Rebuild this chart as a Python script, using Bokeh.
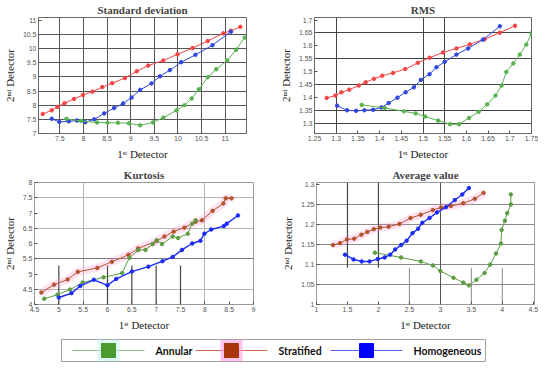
from bokeh.plotting import figure
from bokeh.models import Range1d, FixedTicker, Grid
from bokeh.layouts import column, row
from bokeh.core.properties import value
from bokeh.embed import file_html
from bokeh.resources import INLINE

# ---------------- data ----------------
# Standard deviation
sd_red_x = [7.14, 7.33, 7.45, 7.60, 7.80, 7.99, 8.19, 8.40, 8.61, 8.88, 9.13, 9.37, 9.69, 9.99, 10.31, 10.63, 10.96, 11.12, 11.32]
sd_red_y = [7.69, 7.82, 7.94, 8.07, 8.22, 8.36, 8.48, 8.64, 8.78, 8.96, 9.20, 9.40, 9.58, 9.80, 10.02, 10.27, 10.54, 10.63, 10.77]
sd_blue_x = [7.33, 7.49, 7.69, 7.86, 8.04, 8.23, 8.44, 8.65, 8.84, 9.02, 9.20, 9.44, 9.62, 9.83, 10.07, 10.37, 10.73, 11.12]
sd_blue_y = [7.52, 7.41, 7.43, 7.46, 7.40, 7.50, 7.71, 7.90, 8.06, 8.27, 8.54, 8.77, 9.02, 9.24, 9.52, 9.78, 10.12, 10.60]
sd_green_x = [7.64, 7.95, 8.29, 8.51, 8.73, 8.96, 9.20, 9.47, 9.69, 9.97, 10.14, 10.29, 10.44, 10.63, 10.81, 11.04, 11.23, 11.41]
sd_green_y = [7.52, 7.44, 7.39, 7.38, 7.38, 7.36, 7.29, 7.39, 7.56, 7.82, 8.00, 8.24, 8.56, 8.99, 9.27, 9.58, 9.96, 10.39]

# RMS
rms_red_x = [1.278, 1.298, 1.312, 1.330, 1.352, 1.368, 1.387, 1.406, 1.431, 1.459, 1.488, 1.515, 1.546, 1.577, 1.608, 1.642, 1.677, 1.712]
rms_red_y = [1.398, 1.407, 1.420, 1.430, 1.446, 1.459, 1.472, 1.484, 1.495, 1.510, 1.534, 1.554, 1.574, 1.590, 1.606, 1.626, 1.651, 1.678]
rms_blue_x = [1.302, 1.325, 1.346, 1.365, 1.385, 1.404, 1.421, 1.441, 1.460, 1.479, 1.495, 1.515, 1.531, 1.550, 1.577, 1.604, 1.638, 1.677]
rms_blue_y = [1.368, 1.350, 1.348, 1.350, 1.352, 1.361, 1.378, 1.399, 1.420, 1.439, 1.468, 1.490, 1.517, 1.538, 1.566, 1.590, 1.624, 1.676]
rms_green_x = [1.359, 1.412, 1.456, 1.483, 1.505, 1.535, 1.562, 1.583, 1.606, 1.628, 1.648, 1.667, 1.681, 1.692, 1.708, 1.723, 1.738, 1.750]
rms_green_y = [1.371, 1.359, 1.346, 1.338, 1.326, 1.310, 1.296, 1.296, 1.320, 1.344, 1.373, 1.407, 1.446, 1.499, 1.532, 1.566, 1.605, 1.649]

# Kurtosis
ku_red_x = [4.64, 4.90, 5.18, 5.39, 5.79, 6.09, 6.43, 6.63, 7.01, 7.17, 7.36, 7.58, 7.81, 7.94, 8.16, 8.38, 8.43, 8.55]
ku_red_y = [4.39, 4.65, 4.82, 5.07, 5.20, 5.40, 5.63, 5.84, 6.08, 6.23, 6.39, 6.52, 6.71, 6.76, 7.07, 7.31, 7.48, 7.48]
ku_green_x = [4.70, 4.97, 5.23, 5.49, 5.92, 6.30, 6.45, 6.63, 6.78, 6.93, 7.01, 7.12, 7.34, 7.45, 7.65, 7.74, 7.81]
ku_green_y = [4.19, 4.32, 4.49, 4.72, 4.89, 5.03, 5.53, 5.79, 5.79, 5.98, 6.11, 5.98, 6.23, 6.18, 6.32, 6.65, 6.76]
ku_blue_x = [5.00, 5.26, 5.44, 5.72, 6.00, 6.18, 6.50, 6.84, 7.13, 7.34, 7.53, 7.74, 7.91, 7.99, 8.13, 8.39, 8.45, 8.68]
ku_blue_y = [4.23, 4.37, 4.61, 4.81, 4.63, 4.84, 5.08, 5.24, 5.42, 5.56, 5.79, 6.00, 6.09, 6.32, 6.46, 6.57, 6.65, 6.92]

# Average value
av_red_x = [1.265, 1.381, 1.492, 1.608, 1.725, 1.820, 1.926, 2.032, 2.164, 2.339, 2.519, 2.683, 2.878, 3.011, 3.169, 3.370, 3.556, 3.698]
av_red_y = [1.149, 1.154, 1.163, 1.165, 1.175, 1.182, 1.189, 1.193, 1.195, 1.202, 1.217, 1.225, 1.237, 1.243, 1.247, 1.254, 1.265, 1.280]
av_blue_x = [1.460, 1.598, 1.730, 1.857, 1.989, 2.101, 2.190, 2.270, 2.365, 2.455, 2.550, 2.640, 2.709, 2.825, 2.947, 3.090, 3.233, 3.354, 3.460]
av_blue_y = [1.125, 1.113, 1.108, 1.108, 1.114, 1.118, 1.125, 1.138, 1.149, 1.160, 1.179, 1.190, 1.205, 1.217, 1.231, 1.244, 1.262, 1.276, 1.292]
av_green_x = [1.942, 2.365, 2.683, 2.878, 3.000, 3.212, 3.370, 3.460, 3.582, 3.714, 3.804, 3.899, 3.979, 3.989, 4.042, 4.079, 4.138, 4.138]
av_green_y = [1.130, 1.118, 1.108, 1.098, 1.084, 1.067, 1.055, 1.048, 1.062, 1.079, 1.100, 1.128, 1.153, 1.187, 1.210, 1.229, 1.251, 1.276]

# axis ticks / reference lines
sd_xticks = [7.5, 8.0, 8.5, 9.0, 9.5, 10.0, 10.5, 11.0]
sd_yticks = [7.0, 7.5, 8.0, 8.5, 9.0, 9.5, 10.0, 10.5, 11.0]
sd_xgrid = [7.5, 8.0, 8.5, 9.0, 9.5, 10.0, 10.5, 11.0]
sd_ygrid = [7.5, 8.0, 8.5, 9.0, 9.5, 10.0, 10.5]

rms_xticks = [1.25, 1.3, 1.35, 1.4, 1.45, 1.5, 1.55, 1.6, 1.65, 1.7, 1.75]
rms_yticks = [1.3, 1.35, 1.4, 1.45, 1.5, 1.55, 1.6, 1.65, 1.7]
rms_xgrid = [1.3, 1.5, 1.55]
rms_ygrid = [1.3, 1.35, 1.45, 1.55, 1.65]

ku_xticks = [4.5, 5.0, 5.5, 6.0, 6.5, 7.0, 7.5, 8.0, 8.5, 9.0]
ku_yticks = [4.0, 4.5, 5.0, 5.5, 6.0, 6.5, 7.0, 7.5, 8.0]
ku_xgrid = [5.5, 8.0]
ku_ygrid = [4.5, 6.5, 7.5]
ku_ygrid_dark = [5.5]
ku_partial_x = [5.0, 6.0, 6.5, 7.0, 7.5]
ku_partial_top = 5.28

av_xticks = [1.0, 1.5, 2.0, 2.5, 3.0, 3.5, 4.0, 4.5]
av_yticks = [1.0, 1.05, 1.1, 1.15, 1.2, 1.25, 1.3]
av_ygrid = [1.05, 1.1, 1.15, 1.2, 1.25]
av_xgrid_full = [3.0]
av_upper_x = [1.5, 2.0]
av_lower_x = [2.5, 3.5, 4.0]
av_split_y = 1.092

legend_labels = ["Annular", "Stratified", "Homogeneous"]

SERIF = "Liberation Serif"
XLAB = "1\u02e2\u1d57 Detector"
YLAB = "2\u207f\u1d48 Detector"


def make_plot(title, xr, yr, xticks, yticks, fw, fh, bl, br, bb, outline):
    p = figure(title=title, x_range=Range1d(*xr), y_range=Range1d(*yr),
               frame_width=fw, frame_height=fh,
               min_border_left=bl, min_border_right=br, min_border_bottom=bb, min_border_top=0,
               output_backend="svg", toolbar_location=None, background_fill_color="white")
    p.title.align = "center"
    p.title.text_font = SERIF
    p.title.text_font_size = "11px"
    p.title.text_font_style = "bold"
    p.title.standoff = 3
    p.title.offset = 0
    p.outline_line_color = outline
    p.outline_line_width = 1
    p.xaxis.ticker = FixedTicker(ticks=xticks)
    p.yaxis.ticker = FixedTicker(ticks=yticks)
    for ax in (p.xaxis[0], p.yaxis[0]):
        ax.axis_line_color = None
        ax.major_tick_in = 3
        ax.major_tick_out = 0
        ax.major_tick_line_color = "#555555"
        ax.minor_tick_line_color = None
        ax.major_label_text_font = "Liberation Sans"
        ax.major_label_text_font_size = "7px"
        ax.major_label_text_color = "#555555"
        ax.major_label_standoff = 2
        ax.axis_label_text_font = SERIF
        ax.axis_label_text_font_size = "11px"
        ax.axis_label_text_font_style = "normal"
        ax.axis_label_text_color = "#222222"
        ax.axis_label_standoff = 4
    p.xaxis.axis_label = XLAB
    p.yaxis.axis_label = YLAB
    p.xgrid.grid_line_color = None
    p.ygrid.grid_line_color = None
    return p


def add_grid(p, dim, ticks, color):
    p.add_layout(Grid(dimension=dim, ticker=FixedTicker(ticks=ticks),
                      grid_line_color=color, grid_line_width=1))


def series(p, xs, ys, color, width=1.0, halo=None, size=3.5):
    if halo:
        p.line(xs, ys, line_color=halo, line_width=8, line_alpha=0.25)
    p.line(xs, ys, line_color=color, line_width=width)
    p.scatter(xs, ys, size=size, fill_color=color, line_color=color)


TOP_RED, TOP_BLUE, TOP_GREEN = "#f24444", "#3046dc", "#58b250"
BOT_RED, BOT_BLUE, BOT_GREEN = "#b4532c", "#1b2cf5", "#5c9c42"

# ---- Standard deviation ----
p1 = make_plot("Standard deviation", (7.05, 11.45), (7.0, 11.1), sd_xticks, sd_yticks,
               208, 116, 34, 28, 32, "#666666")
add_grid(p1, 0, sd_xgrid, "#555555")
add_grid(p1, 1, sd_ygrid, "#555555")
series(p1, sd_red_x, sd_red_y, TOP_RED)
series(p1, sd_blue_x, sd_blue_y, TOP_BLUE)
series(p1, sd_green_x, sd_green_y, TOP_GREEN)

# ---- RMS ----
p2 = make_plot("RMS", (1.25, 1.75), (1.26, 1.71), rms_xticks, rms_yticks,
               217, 116, 40, 7, 32, "#666666")
add_grid(p2, 0, rms_xgrid, "#444444")
add_grid(p2, 1, rms_ygrid, "#444444")
series(p2, rms_red_x, rms_red_y, TOP_RED)
series(p2, rms_blue_x, rms_blue_y, TOP_BLUE)
series(p2, rms_green_x, rms_green_y, TOP_GREEN)

# ---- Kurtosis ----
p3 = make_plot("Kurtosis", (4.5, 9.0), (4.0, 8.0), ku_xticks, ku_yticks,
               219, 122, 30, 18, 32, "#9a9a9a")
add_grid(p3, 0, ku_xgrid, "#b5b5b5")
add_grid(p3, 1, ku_ygrid, "#b5b5b5")
add_grid(p3, 1, ku_ygrid_dark, "#777777")
p3.segment(x0=ku_partial_x, x1=ku_partial_x, y0=[4.0] * len(ku_partial_x),
           y1=[ku_partial_top] * len(ku_partial_x), line_color="#444444", line_width=1.2)
series(p3, ku_red_x, ku_red_y, BOT_RED, halo="#ff8fd0")
series(p3, ku_green_x, ku_green_y, BOT_GREEN)
series(p3, ku_blue_x, ku_blue_y, BOT_BLUE, width=1.4)

# ---- Average value ----
p4 = make_plot("Average value", (1.0, 4.52), (1.0, 1.306), av_xticks, av_yticks,
               218, 122, 45, 4, 32, "#9a9a9a")
add_grid(p4, 1, av_ygrid, "#8a8a8a")
add_grid(p4, 0, av_xgrid_full, "#555555")
p4.segment(x0=av_upper_x, x1=av_upper_x, y0=[av_split_y] * len(av_upper_x),
           y1=[1.306] * len(av_upper_x), line_color="#444444", line_width=1.2)
p4.segment(x0=av_lower_x, x1=av_lower_x, y0=[1.0] * len(av_lower_x),
           y1=[av_split_y] * len(av_lower_x), line_color="#8a8a8a", line_width=1)
series(p4, av_red_x, av_red_y, BOT_RED, halo="#ff8fd0")
series(p4, av_green_x, av_green_y, BOT_GREEN)
series(p4, av_blue_x, av_blue_y, BOT_BLUE, width=1.4)

# ---- Legend strip ----
LW, LH = 424, 22
lg = figure(x_range=Range1d(0, LW), y_range=Range1d(0, LH), frame_width=LW, frame_height=LH,
            min_border_left=61, min_border_right=49, min_border_top=3, min_border_bottom=1,
            output_backend="svg", toolbar_location=None)
lg.axis.visible = False
lg.grid.grid_line_color = None
lg.outline_line_color = "#a0a0a0"
item_x = [11, 134, 269]
glyph_w = 72
mid = LH / 2
line_cols = ["#8fbf80", "#d86a5a", "#5a5ae6"]
sq_cols = ["#4b9a30", "#a8360a", "#0000ff"]
glow_cols = ["#c8f4f0", "#ff9ee0", None]
for i, lab in enumerate(legend_labels):
    x0 = item_x[i]
    lg.segment(x0=[x0], x1=[x0 + glyph_w], y0=[mid], y1=[mid], line_color=line_cols[i], line_width=1)
    if glow_cols[i]:
        lg.scatter([x0 + glyph_w / 2], [mid], marker="square", size=22,
                   fill_color=glow_cols[i], fill_alpha=0.6, line_color=None)
    lg.scatter([x0 + glyph_w / 2], [mid], marker="square", size=14,
               fill_color=sq_cols[i], line_color=sq_cols[i])
    lg.text([x0 + glyph_w + 11], [mid], text=[lab], text_baseline="middle", text_align="left",
            text_font=value("Lato"), text_font_style="bold", text_font_size="10.5px",
            text_color="#111111")

layout = column(row(p1, p2), row(p3, p4), lg)
open("out.html", "w").write(file_html(layout, INLINE))
